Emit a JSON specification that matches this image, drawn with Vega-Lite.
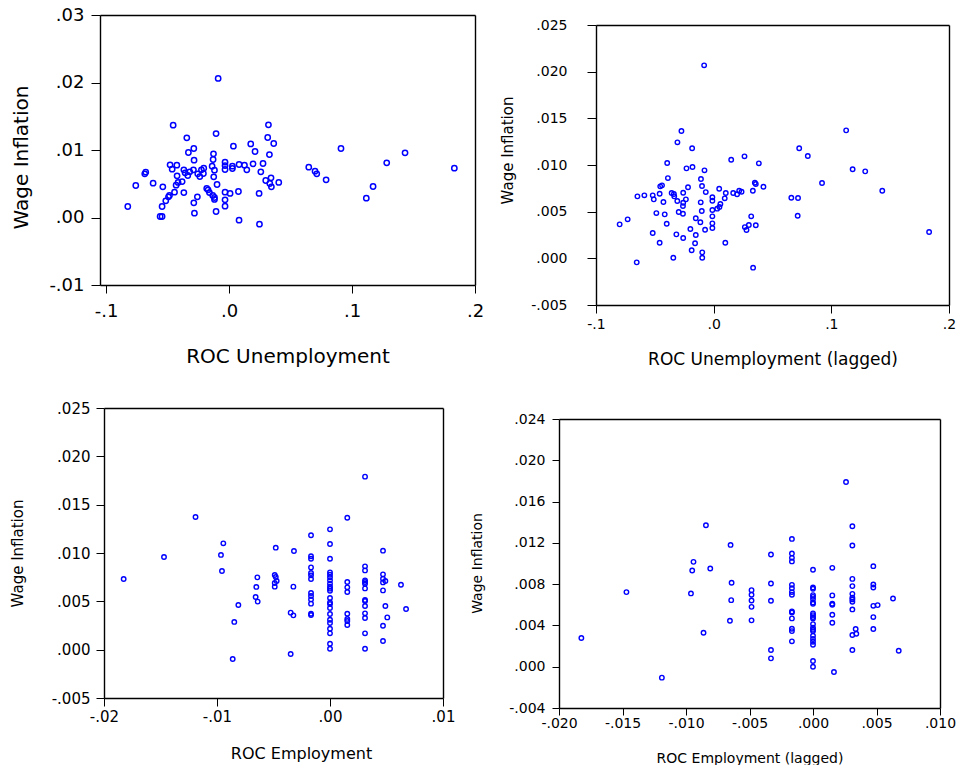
{
  "$schema": "https://vega.github.io/schema/vega-lite/v6.json",
  "background": "white",
  "padding": {"left": 10, "top": 6, "right": 0, "bottom": 0},
  "columns": 2,
  "bounds": "flush",
  "align": {"row": "each", "column": "none"},
  "spacing": {"row": 103, "column": 121},
  "config": {
    "font": "DejaVu Sans",
    "view": {"stroke": null},
    "axis": {"grid": false, "domainColor": "black", "domainWidth": 1.4, "tickColor": "black", "tickWidth": 1, "labelColor": "black", "titleColor": "black", "titleFontWeight": "normal", "labelFlush": false, "labelOverlap": false}
  },
  "datasets": {
    "p1": [
      {"roc": -0.0089, "wage": 0.0206}, {"roc": -0.0455, "wage": 0.01367}, {"roc": -0.0106, "wage": 0.01244}, {"roc": -0.0344, "wage": 0.0118}, {"roc": 0.032, "wage": 0.01373},
      {"roc": 0.0314, "wage": 0.01185}, {"roc": 0.0363, "wage": 0.01096}, {"roc": 0.0176, "wage": 0.0109}, {"roc": 0.0035, "wage": 0.01057}, {"roc": -0.0331, "wage": 0.00963},
      {"roc": -0.0287, "wage": 0.01022}, {"roc": 0.0211, "wage": 0.00978}, {"roc": -0.0127, "wage": 0.00943}, {"roc": 0.0328, "wage": 0.00933}, {"roc": -0.0285, "wage": 0.00849},
      {"roc": -0.013, "wage": 0.00859}, {"roc": -0.0033, "wage": 0.0082}, {"roc": 0.0276, "wage": 0.008}, {"roc": 0.0195, "wage": 0.00795}, {"roc": 0.0081, "wage": 0.00785},
      {"roc": 0.0125, "wage": 0.00775}, {"roc": -0.048, "wage": 0.0078}, {"roc": -0.0425, "wage": 0.00775}, {"roc": -0.0033, "wage": 0.0077}, {"roc": -0.0138, "wage": 0.0076},
      {"roc": 0.0027, "wage": 0.0076}, {"roc": 0.0144, "wage": 0.00706}, {"roc": -0.0463, "wage": 0.00716}, {"roc": -0.0368, "wage": 0.00706}, {"roc": -0.029, "wage": 0.00706},
      {"roc": -0.0225, "wage": 0.00706}, {"roc": -0.0206, "wage": 0.0073}, {"roc": -0.0119, "wage": 0.00701}, {"roc": -0.0033, "wage": 0.00711}, {"roc": 0.0027, "wage": 0.00726},
      {"roc": 0.0258, "wage": 0.00677}, {"roc": -0.0678, "wage": 0.00671}, {"roc": -0.0686, "wage": 0.00647}, {"roc": -0.0358, "wage": 0.00662}, {"roc": -0.032, "wage": 0.00677},
      {"roc": -0.0255, "wage": 0.00647}, {"roc": -0.0209, "wage": 0.00652}, {"roc": -0.0336, "wage": 0.00622}, {"roc": -0.0238, "wage": 0.00607}, {"roc": -0.0423, "wage": 0.00617},
      {"roc": -0.0125, "wage": 0.00602}, {"roc": 0.0341, "wage": 0.00588}, {"roc": 0.0298, "wage": 0.00548}, {"roc": 0.0331, "wage": 0.00504}, {"roc": 0.0404, "wage": 0.00519},
      {"roc": 0.0344, "wage": 0.00454}, {"roc": -0.0382, "wage": 0.00533}, {"roc": -0.0415, "wage": 0.00519}, {"roc": -0.0431, "wage": 0.00479}, {"roc": -0.0618, "wage": 0.00509},
      {"roc": -0.0759, "wage": 0.00474}, {"roc": -0.0539, "wage": 0.00454}, {"roc": -0.0098, "wage": 0.00489}, {"roc": -0.0182, "wage": 0.0043}, {"roc": -0.0171, "wage": 0.0041},
      {"roc": -0.016, "wage": 0.0037}, {"roc": -0.0444, "wage": 0.00375}, {"roc": -0.0368, "wage": 0.0037}, {"roc": -0.0033, "wage": 0.00375}, {"roc": 0.0008, "wage": 0.00356},
      {"roc": 0.0076, "wage": 0.00385}, {"roc": 0.0244, "wage": 0.00356}, {"roc": -0.0485, "wage": 0.00326}, {"roc": -0.0493, "wage": 0.00306}, {"roc": -0.0258, "wage": 0.00306},
      {"roc": -0.0133, "wage": 0.00326}, {"roc": -0.0119, "wage": 0.00296}, {"roc": -0.0119, "wage": 0.00267}, {"roc": -0.0033, "wage": 0.00262}, {"roc": -0.0515, "wage": 0.00247},
      {"roc": -0.0287, "wage": 0.00217}, {"roc": -0.0824, "wage": 0.00163}, {"roc": -0.0545, "wage": 0.00163}, {"roc": -0.0033, "wage": 0.00168}, {"roc": -0.0106, "wage": 0.00089},
      {"roc": -0.0282, "wage": 0.00064}, {"roc": -0.0561, "wage": 0.00015}, {"roc": -0.0545, "wage": 0.00015}, {"roc": 0.0081, "wage": -0.0004}, {"roc": 0.0247, "wage": -0.00099},
      {"roc": 0.091, "wage": 0.01022}, {"roc": 0.1431, "wage": 0.00958}, {"roc": 0.1282, "wage": 0.0081}, {"roc": 0.0648, "wage": 0.00746}, {"roc": 0.1832, "wage": 0.0073},
      {"roc": 0.0699, "wage": 0.00686}, {"roc": 0.0713, "wage": 0.00647}, {"roc": 0.0789, "wage": 0.00558}, {"roc": 0.1171, "wage": 0.00459}, {"roc": 0.1116, "wage": 0.00286}
    ],
    "p2": [
      {"roc": -0.0081, "wage": 0.02068}, {"roc": -0.0274, "wage": 0.01364}, {"roc": -0.0308, "wage": 0.01243}, {"roc": -0.0183, "wage": 0.01179}, {"roc": 0.0149, "wage": 0.01056},
      {"roc": 0.0262, "wage": 0.01093}, {"roc": 0.0384, "wage": 0.01018}, {"roc": -0.0395, "wage": 0.01021}, {"roc": -0.0231, "wage": 0.00964}, {"roc": -0.018, "wage": 0.00978},
      {"roc": -0.0078, "wage": 0.00943}, {"roc": -0.0389, "wage": 0.0086}, {"roc": -0.0108, "wage": 0.0085}, {"roc": -0.0454, "wage": 0.00771}, {"roc": -0.0439, "wage": 0.00782},
      {"roc": -0.0218, "wage": 0.00761}, {"roc": -0.0099, "wage": 0.00775}, {"roc": 0.0047, "wage": 0.00746}, {"roc": 0.035, "wage": 0.0081}, {"roc": 0.0358, "wage": 0.00796},
      {"roc": 0.0423, "wage": 0.00767}, {"roc": 0.0333, "wage": 0.00724}, {"roc": 0.0217, "wage": 0.00724}, {"roc": 0.0237, "wage": 0.00714}, {"roc": 0.0166, "wage": 0.007},
      {"roc": 0.0199, "wage": 0.00686}, {"roc": 0.0103, "wage": 0.007}, {"roc": -0.0067, "wage": 0.0071}, {"roc": -0.0648, "wage": 0.00664}, {"roc": -0.0589, "wage": 0.00675},
      {"roc": -0.0518, "wage": 0.00675}, {"roc": -0.0509, "wage": 0.00632}, {"roc": -0.0459, "wage": 0.00692}, {"roc": -0.0357, "wage": 0.007}, {"roc": -0.0338, "wage": 0.00689},
      {"roc": -0.0335, "wage": 0.00664}, {"roc": -0.0259, "wage": 0.00703}, {"roc": -0.0236, "wage": 0.00632}, {"roc": -0.0309, "wage": 0.00614}, {"roc": -0.0259, "wage": 0.00596},
      {"roc": -0.0261, "wage": 0.0056}, {"roc": -0.011, "wage": 0.006}, {"roc": -0.0011, "wage": 0.00654}, {"roc": -0.0011, "wage": 0.00617}, {"roc": 0.0094, "wage": 0.00643},
      {"roc": 0.0057, "wage": 0.00582}, {"roc": 0.0049, "wage": 0.0055}, {"roc": 0.003, "wage": 0.00532}, {"roc": -0.0011, "wage": 0.00518}, {"roc": -0.0101, "wage": 0.00507},
      {"roc": -0.0427, "wage": 0.00603}, {"roc": -0.0487, "wage": 0.00485}, {"roc": -0.0416, "wage": 0.00471}, {"roc": -0.0297, "wage": 0.00496}, {"roc": -0.0261, "wage": 0.00478},
      {"roc": -0.0011, "wage": 0.0045}, {"roc": -0.0152, "wage": 0.00429}, {"roc": -0.0113, "wage": 0.00386}, {"roc": -0.0011, "wage": 0.00375}, {"roc": -0.0011, "wage": 0.00325},
      {"roc": -0.0073, "wage": 0.00306}, {"roc": -0.0198, "wage": 0.00314}, {"roc": -0.0399, "wage": 0.00371}, {"roc": -0.0799, "wage": 0.00364}, {"roc": -0.0731, "wage": 0.00418},
      {"roc": -0.0518, "wage": 0.00271}, {"roc": -0.0317, "wage": 0.00257}, {"roc": -0.0259, "wage": 0.00218}, {"roc": -0.0152, "wage": 0.0025}, {"roc": -0.0459, "wage": 0.00167},
      {"roc": -0.0158, "wage": 0.00161}, {"roc": 0.0099, "wage": 0.00167}, {"roc": -0.0187, "wage": 0.00086}, {"roc": -0.0097, "wage": 0.00064}, {"roc": -0.0097, "wage": 0.00006},
      {"roc": -0.0343, "wage": 0.00006}, {"roc": -0.0654, "wage": -0.00043}, {"roc": 0.0319, "wage": 0.0045}, {"roc": 0.0265, "wage": 0.00335}, {"roc": 0.0279, "wage": 0.00303},
      {"roc": 0.0299, "wage": 0.00357}, {"roc": 0.0358, "wage": 0.00354}, {"roc": 0.0335, "wage": -0.001}, {"roc": 0.1126, "wage": 0.01371}, {"roc": 0.0727, "wage": 0.01179},
      {"roc": 0.08, "wage": 0.01096}, {"roc": 0.1181, "wage": 0.00954}, {"roc": 0.1288, "wage": 0.00932}, {"roc": 0.0921, "wage": 0.00807}, {"roc": 0.1433, "wage": 0.00724},
      {"roc": 0.066, "wage": 0.00649}, {"roc": 0.0717, "wage": 0.00646}, {"roc": 0.0714, "wage": 0.00456}, {"roc": 0.1831, "wage": 0.00282}
    ],
    "p3": [
      {"roc": -0.0119, "wage": 0.01373}, {"roc": -0.00944, "wage": 0.011}, {"roc": -0.00965, "wage": 0.0098}, {"roc": -0.00956, "wage": 0.00814}, {"roc": -0.01469, "wage": 0.00959},
      {"roc": -0.01826, "wage": 0.00731}, {"roc": -0.0048, "wage": 0.01055}, {"roc": -0.00643, "wage": 0.00748}, {"roc": -0.00652, "wage": 0.00649}, {"roc": -0.00658, "wage": 0.00545},
      {"roc": -0.0064, "wage": 0.00497}, {"roc": -0.00811, "wage": 0.00462}, {"roc": -0.00847, "wage": 0.00287}, {"roc": -0.00861, "wage": -0.00096}, {"roc": -0.00489, "wage": 0.00772},
      {"roc": -0.0048, "wage": 0.00752}, {"roc": -0.00472, "wage": 0.00711}, {"roc": -0.00489, "wage": 0.0069}, {"roc": -0.00489, "wage": 0.00652},
      {"roc": -0.00319, "wage": 0.01021}, {"roc": -0.00324, "wage": 0.00652}, {"roc": -0.00348, "wage": 0.00383}, {"roc": -0.00324, "wage": 0.00355}, {"roc": -0.00348, "wage": -0.00045},
      {"roc": -0.00168, "wage": 0.01183}, {"roc": -0.00168, "wage": 0.00966}, {"roc": -0.00168, "wage": 0.00941}, {"roc": -0.00168, "wage": 0.00851}, {"roc": -0.00168, "wage": 0.00793},
      {"roc": -0.00168, "wage": 0.00769}, {"roc": -0.00168, "wage": 0.00731}, {"roc": -0.00168, "wage": 0.00586}, {"roc": -0.00168, "wage": 0.00555}, {"roc": -0.00168, "wage": 0.0052},
      {"roc": -0.00168, "wage": 0.00476}, {"roc": -0.00168, "wage": 0.00372}, {"roc": -0.00168, "wage": 0.00359},
      {"roc": 0.0, "wage": 0.01245}, {"roc": 0.0, "wage": 0.01093}, {"roc": 0.0, "wage": 0.00941}, {"roc": 0.0, "wage": 0.008}, {"roc": 0.0, "wage": 0.00776},
      {"roc": 0.0, "wage": 0.00748}, {"roc": 0.0, "wage": 0.00717}, {"roc": 0.0, "wage": 0.00683}, {"roc": 0.0, "wage": 0.00652}, {"roc": 0.0, "wage": 0.00631},
      {"roc": 0.0, "wage": 0.0061}, {"roc": 0.0, "wage": 0.00535}, {"roc": 0.0, "wage": 0.00489}, {"roc": 0.0, "wage": 0.00473}, {"roc": 0.0, "wage": 0.00431},
      {"roc": 0.0, "wage": 0.00369}, {"roc": 0.0, "wage": 0.0031}, {"roc": 0.0, "wage": 0.00276}, {"roc": 0.0, "wage": 0.00217}, {"roc": 0.0, "wage": 0.00169},
      {"roc": 0.0, "wage": 0.00062}, {"roc": 0.0, "wage": 0.0001},
      {"roc": 0.00153, "wage": 0.01365}, {"roc": 0.00153, "wage": 0.007}, {"roc": 0.00153, "wage": 0.00645}, {"roc": 0.00153, "wage": 0.00597}, {"roc": 0.00153, "wage": 0.00372},
      {"roc": 0.00153, "wage": 0.00318}, {"roc": 0.00153, "wage": 0.00297}, {"roc": 0.00153, "wage": 0.00255},
      {"roc": 0.0031, "wage": 0.0179}, {"roc": 0.0031, "wage": 0.00862}, {"roc": 0.0031, "wage": 0.0082}, {"roc": 0.0031, "wage": 0.00717}, {"roc": 0.0031, "wage": 0.007},
      {"roc": 0.0031, "wage": 0.00683}, {"roc": 0.0031, "wage": 0.00634}, {"roc": 0.0031, "wage": 0.00514}, {"roc": 0.0031, "wage": 0.00504}, {"roc": 0.0031, "wage": 0.00452},
      {"roc": 0.0031, "wage": 0.00376}, {"roc": 0.0031, "wage": 0.00328}, {"roc": 0.0031, "wage": 0.00169}, {"roc": 0.0031, "wage": 0.0001},
      {"roc": 0.00469, "wage": 0.01024}, {"roc": 0.00469, "wage": 0.00779}, {"roc": 0.00469, "wage": 0.00734}, {"roc": 0.0049, "wage": 0.0071}, {"roc": 0.00469, "wage": 0.00696},
      {"roc": 0.00469, "wage": 0.00613}, {"roc": 0.0049, "wage": 0.00452}, {"roc": 0.00469, "wage": 0.00248}, {"roc": 0.00469, "wage": 0.0009}, {"roc": 0.00507, "wage": 0.00334},
      {"roc": 0.00628, "wage": 0.00672}, {"roc": 0.00673, "wage": 0.00421}
    ],
    "p4": [
      {"roc": -0.00843, "wage": 0.01371}, {"roc": -0.00649, "wage": 0.0118}, {"roc": -0.00941, "wage": 0.01016}, {"roc": -0.00951, "wage": 0.00932}, {"roc": -0.00809, "wage": 0.00952},
      {"roc": -0.00641, "wage": 0.00813}, {"roc": -0.01469, "wage": 0.00723}, {"roc": -0.00961, "wage": 0.0071}, {"roc": -0.00644, "wage": 0.00645}, {"roc": -0.00654, "wage": 0.00445},
      {"roc": -0.00862, "wage": 0.00329}, {"roc": -0.01824, "wage": 0.00278}, {"roc": -0.0119, "wage": -0.00106},
      {"roc": -0.00484, "wage": 0.00742}, {"roc": -0.00484, "wage": 0.00697}, {"roc": -0.00484, "wage": 0.00642}, {"roc": -0.00484, "wage": 0.0058}, {"roc": -0.00484, "wage": 0.00449},
      {"roc": -0.00331, "wage": 0.01087}, {"roc": -0.00331, "wage": 0.00806}, {"roc": -0.00331, "wage": 0.00639}, {"roc": -0.00331, "wage": 0.00162}, {"roc": -0.00331, "wage": 0.00081},
      {"roc": -0.00166, "wage": 0.01238}, {"roc": -0.00166, "wage": 0.01097}, {"roc": -0.00166, "wage": 0.01055}, {"roc": -0.00166, "wage": 0.0102}, {"roc": -0.00166, "wage": 0.00793},
      {"roc": -0.00166, "wage": 0.00761}, {"roc": -0.00166, "wage": 0.00723}, {"roc": -0.00166, "wage": 0.00697}, {"roc": -0.00166, "wage": 0.00536}, {"roc": -0.00166, "wage": 0.00526},
      {"roc": -0.00166, "wage": 0.00468}, {"roc": -0.00166, "wage": 0.00368}, {"roc": -0.00166, "wage": 0.00345}, {"roc": -0.00166, "wage": 0.00246},
      {"roc": 0.0, "wage": 0.00939}, {"roc": 0.0, "wage": 0.00768}, {"roc": 0.0, "wage": 0.00755}, {"roc": 0.0, "wage": 0.00694}, {"roc": 0.0, "wage": 0.00677},
      {"roc": 0.0, "wage": 0.00655}, {"roc": 0.0, "wage": 0.00623}, {"roc": 0.0, "wage": 0.0061}, {"roc": 0.0, "wage": 0.00517}, {"roc": 0.0, "wage": 0.005},
      {"roc": 0.0, "wage": 0.00481}, {"roc": 0.0, "wage": 0.00468}, {"roc": 0.0, "wage": 0.00413}, {"roc": 0.0, "wage": 0.00377}, {"roc": 0.0, "wage": 0.00358},
      {"roc": 0.0, "wage": 0.00345}, {"roc": 0.0, "wage": 0.003}, {"roc": 0.0, "wage": 0.00268}, {"roc": 0.0, "wage": 0.00242}, {"roc": 0.0, "wage": 0.00213},
      {"roc": 0.0, "wage": 0.00055}, {"roc": 0.0, "wage": 0.0},
      {"roc": 0.00152, "wage": 0.00958}, {"roc": 0.00152, "wage": 0.00691}, {"roc": 0.00152, "wage": 0.0061}, {"roc": 0.00152, "wage": 0.006}, {"roc": 0.00152, "wage": 0.00503},
      {"roc": 0.00152, "wage": 0.00426}, {"roc": 0.00165, "wage": -0.00051},
      {"roc": 0.0031, "wage": 0.01361}, {"roc": 0.0031, "wage": 0.01174}, {"roc": 0.0031, "wage": 0.00851}, {"roc": 0.0031, "wage": 0.00781}, {"roc": 0.0031, "wage": 0.00706},
      {"roc": 0.0031, "wage": 0.00668}, {"roc": 0.0031, "wage": 0.00652}, {"roc": 0.0031, "wage": 0.00629}, {"roc": 0.0031, "wage": 0.00555}, {"roc": 0.00336, "wage": 0.00365},
      {"roc": 0.00341, "wage": 0.00319}, {"roc": 0.0031, "wage": 0.00307}, {"roc": 0.0031, "wage": 0.00162},
      {"roc": 0.00475, "wage": 0.00974}, {"roc": 0.00475, "wage": 0.00797}, {"roc": 0.00475, "wage": 0.00768}, {"roc": 0.00475, "wage": 0.0059}, {"roc": 0.00475, "wage": 0.00481},
      {"roc": 0.00475, "wage": 0.00365}, {"roc": 0.00509, "wage": 0.00597}, {"roc": 0.0063, "wage": 0.00661}, {"roc": 0.00675, "wage": 0.00155}, {"roc": 0.0026, "wage": 0.0179}
    ]
  },
  "concat": [
    {
      "width": 375, "height": 270,
      "data": {"name": "p1"},
      "resolve": {"axis": {"x": "independent", "y": "independent"}},
      "layer": [
        {
          "mark": {"type": "point", "filled": false, "color": "#0000ff", "opacity": 1, "size": 28, "strokeWidth": 1.5},
          "encoding": {
            "x": {"field": "roc", "type": "quantitative", "scale": {"domain": [-0.105, 0.2], "nice": false, "zero": false},
              "axis": {"title": "ROC Unemployment", "values": [-0.1, 0, 0.1, 0.2], "labelExpr": "(datum.value < 0 ? '-' : '') + replace(format(abs(datum.value), '.1f'), '0.', '.')", "labelFontSize": 18, "titleFontSize": 20, "tickSize": 8, "labelPadding": 9, "titleY": 61}},
            "y": {"field": "wage", "type": "quantitative", "scale": {"domain": [-0.01, 0.03], "nice": false, "zero": false},
              "axis": {"title": "Wage Inflation", "values": [-0.01, 0, 0.01, 0.02, 0.03], "labelExpr": "(datum.value < 0 ? '-' : '') + replace(format(abs(datum.value), '.2f'), '0.', '.')", "labelFontSize": 18, "titleFontSize": 20, "tickSize": 9, "labelPadding": 7, "titleX": -69, "titleY": 142}}
          }
        },
        {
          "mark": {"type": "point", "opacity": 0},
          "encoding": {
            "x": {"field": "roc", "type": "quantitative", "axis": {"orient": "top", "labels": false, "ticks": false, "title": null}},
            "y": {"field": "wage", "type": "quantitative", "axis": {"orient": "right", "labels": false, "ticks": false, "title": null}}
          }
        }
      ]
    },
    {
      "width": 353, "height": 290,
      "data": {"name": "p2"},
      "resolve": {"axis": {"x": "independent", "y": "independent"}},
      "layer": [
        {
          "mark": {"type": "point", "filled": false, "color": "#0000ff", "opacity": 1, "size": 20, "strokeWidth": 1.4},
          "encoding": {
            "x": {"field": "roc", "type": "quantitative", "scale": {"domain": [-0.1, 0.2], "nice": false, "zero": false},
              "axis": {"title": "ROC Unemployment (lagged)", "values": [-0.1, 0, 0.1, 0.2], "labelExpr": "(datum.value < 0 ? '-' : '') + replace(format(abs(datum.value), '.1f'), '0.', '.')", "labelFontSize": 14, "titleFontSize": 17, "tickSize": 8, "labelPadding": 4, "titleY": 46}},
            "y": {"field": "wage", "type": "quantitative", "scale": {"domain": [-0.005, 0.025], "nice": false, "zero": false, "range": [290, 10]},
              "axis": {"title": "Wage Inflation", "values": [-0.005, 0, 0.005, 0.01, 0.015, 0.02, 0.025], "labelExpr": "(datum.value < 0 ? '-' : '') + replace(format(abs(datum.value), '.3f'), '0.', '.')", "labelFontSize": 14, "titleFontSize": 15, "tickSize": 9, "labelPadding": 20, "titleX": -81, "titleY": 135}}
          }
        },
        {
          "mark": {"type": "point", "opacity": 0},
          "encoding": {
            "x": {"field": "roc", "type": "quantitative", "axis": {"orient": "top", "labels": false, "ticks": false, "title": null, "offset": -10}},
            "y": {"field": "wage", "type": "quantitative", "axis": {"orient": "right", "labels": false, "ticks": false, "title": null}}
          }
        }
      ]
    },
    {
      "width": 338, "height": 290,
      "data": {"name": "p3"},
      "resolve": {"axis": {"x": "independent", "y": "independent"}},
      "layer": [
        {
          "mark": {"type": "point", "filled": false, "color": "#0000ff", "opacity": 1, "size": 20, "strokeWidth": 1.4},
          "encoding": {
            "x": {"field": "roc", "type": "quantitative", "scale": {"domain": [-0.02, 0.01], "nice": false, "zero": false, "range": [4, 343]},
              "axis": {"title": "ROC Employment", "values": [-0.02, -0.01, 0, 0.01], "labelExpr": "(datum.value < 0 ? '-' : '') + replace(format(abs(datum.value), '.2f'), '0.', '.')", "labelFontSize": 15, "titleFontSize": 16, "tickSize": 8, "labelPadding": 3, "titleY": 47, "titleX": 201}},
            "y": {"field": "wage", "type": "quantitative", "scale": {"domain": [-0.005, 0.025], "nice": false, "zero": false},
              "axis": {"title": "Wage Inflation", "values": [-0.005, 0, 0.005, 0.01, 0.015, 0.02, 0.025], "labelExpr": "(datum.value < 0 ? '-' : '') + replace(format(abs(datum.value), '.3f'), '0.', '.')", "labelFontSize": 15, "titleFontSize": 15, "tickSize": 8, "labelPadding": 6, "titleX": -79, "offset": -4}}
          }
        },
        {
          "mark": {"type": "point", "opacity": 0},
          "encoding": {
            "x": {"field": "roc", "type": "quantitative", "axis": {"orient": "top", "labels": false, "ticks": false, "title": null}},
            "y": {"field": "wage", "type": "quantitative", "axis": {"orient": "right", "labels": false, "ticks": false, "title": null, "offset": 5}}
          }
        }
      ]
    },
    {
      "width": 344, "height": 300,
      "data": {"name": "p4"},
      "resolve": {"axis": {"x": "independent", "y": "independent"}},
      "layer": [
        {
          "mark": {"type": "point", "filled": false, "color": "#0000ff", "opacity": 1, "size": 20, "strokeWidth": 1.4},
          "encoding": {
            "x": {"field": "roc", "type": "quantitative", "scale": {"domain": [-0.02, 0.01], "nice": false, "zero": false, "range": [-37, 344]},
              "axis": {"title": "ROC Employment (lagged)", "values": [-0.02, -0.015, -0.01, -0.005, 0, 0.005, 0.01], "labelExpr": "(datum.value < 0 ? '-' : '') + replace(format(abs(datum.value), '.3f'), '0.', '.')", "labelFontSize": 14, "titleFontSize": 14, "tickSize": 7, "labelPadding": 1, "titleY": 43}},
            "y": {"field": "wage", "type": "quantitative", "scale": {"domain": [-0.004, 0.024], "nice": false, "zero": false, "range": [300, 11]},
              "axis": {"title": "Wage Inflation", "values": [-0.004, 0, 0.004, 0.008, 0.012, 0.016, 0.02, 0.024], "labelExpr": "(datum.value < 0 ? '-' : '') + replace(format(abs(datum.value), '.3f'), '0.', '.')", "labelFontSize": 14, "titleFontSize": 14, "tickSize": 7, "labelPadding": 7, "titleX": -75, "titleY": 155, "offset": 37}}
          }
        },
        {
          "mark": {"type": "point", "opacity": 0},
          "encoding": {
            "x": {"field": "roc", "type": "quantitative", "axis": {"orient": "top", "labels": false, "ticks": false, "title": null, "offset": -11}},
            "y": {"field": "wage", "type": "quantitative", "axis": {"orient": "right", "labels": false, "ticks": false, "title": null}}
          }
        }
      ]
    }
  ]
}
